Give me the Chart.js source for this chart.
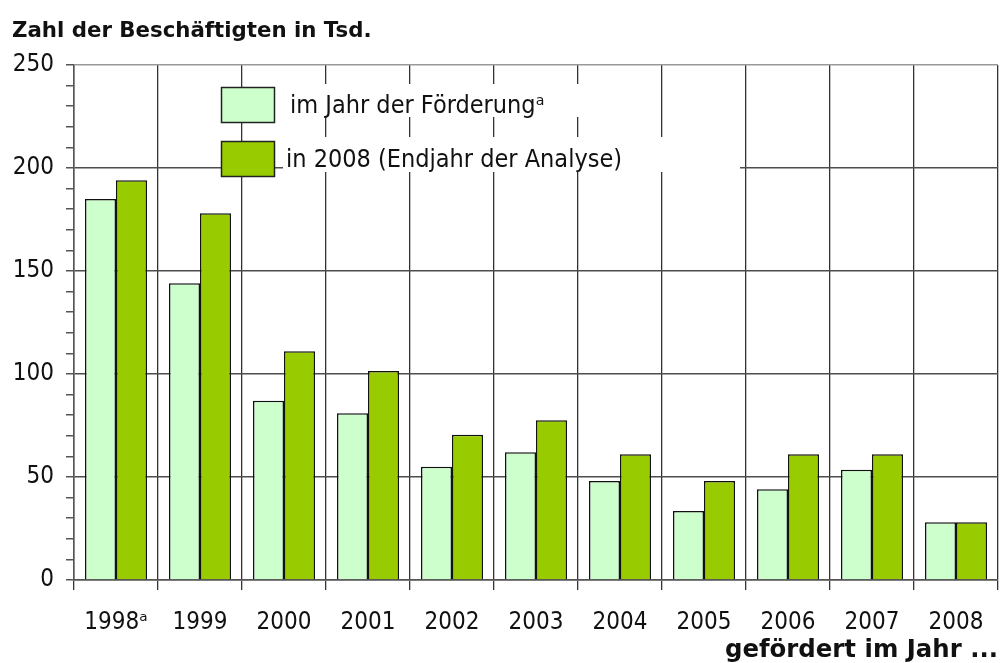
<!DOCTYPE html>
<html>
<head>
<meta charset="utf-8">
<script src="https://cdn.jsdelivr.net/npm/chart.js@4/dist/chart.umd.min.js"></script>
<style>
  html, body { margin: 0; padding: 0; background: #ffffff; }
  #wrap { width: 1002px; height: 663px; position: relative; }
</style>
</head>
<body>
<div id="wrap"><canvas id="c" width="1002" height="663"></canvas></div>
<script>
// ---- data ----
const categories = ['1998\u1D43', '1999', '2000', '2001', '2002', '2003', '2004', '2005', '2006', '2007', '2008'];
const imJahrDerFoerderung = [185, 144, 87, 81, 55, 62, 48, 33.5, 44, 53.5, 28];
const in2008 = [194, 178, 111, 101.5, 70.5, 77.5, 61, 48, 61, 61, 28];
const seriesNames = ['im Jahr der F\u00F6rderung\u1D43', 'in 2008 (Endjahr der Analyse)'];
const yTickValues = [0, 50, 100, 150, 200, 250];
const titleText = 'Zahl der Besch\u00E4ftigten in Tsd.';
const xAxisTitle = 'gef\u00F6rdert im Jahr ...';

const FONT = "'DejaVu Sans Condensed', 'DejaVu Sans', sans-serif";
const FONT_WIDE = "'DejaVu Sans', sans-serif";
const LIGHT = '#ccffcc';
const DARK = '#99cc00';

const overlay = {
  id: 'overlay',
  afterDraw(chart) {
    const ctx = chart.ctx;
    ctx.save();
    // title
    ctx.fillStyle = '#111';
    ctx.font = 'bold 21.3px ' + FONT_WIDE;
    ctx.textBaseline = 'alphabetic';
    ctx.textAlign = 'left';
    ctx.fillText(titleText, 12, 37);
    // x axis title
    ctx.textAlign = 'right';
    ctx.font = 'bold 24.4px ' + FONT_WIDE;
    ctx.fillText(xAxisTitle, 998, 657);

    // legend
    const items = [
      {color: LIGHT, name: seriesNames[0], sw: [221, 87, 54, 36], box: [283, 84, 330, 33], tx: 290, ty: 113},
      {color: DARK, name: seriesNames[1], sw: [221, 141, 54, 36], box: [283, 137, 457, 35], tx: 286, ty: 167}
    ];
    items.forEach(it => {
      ctx.fillStyle = '#ffffff';
      ctx.fillRect(it.box[0], it.box[1], it.box[2], it.box[3]);
    });
    items.forEach(it => {
      ctx.fillStyle = it.color;
      ctx.fillRect(it.sw[0], it.sw[1], it.sw[2], it.sw[3]);
      ctx.strokeStyle = '#222';
      ctx.lineWidth = 1.5;
      ctx.strokeRect(it.sw[0] + 0.5, it.sw[1] + 0.5, it.sw[2] - 1, it.sw[3] - 1);
      ctx.fillStyle = '#111';
      ctx.textAlign = 'left';
      ctx.font = '25px ' + FONT;
      ctx.fillText(it.name, it.tx, it.ty);
    });
    ctx.restore();
  }
};

new Chart(document.getElementById('c'), {
  type: 'bar',
  data: {
    labels: categories,
    datasets: [
      {label: seriesNames[0], data: imJahrDerFoerderung, backgroundColor: LIGHT, borderColor: '#111', borderWidth: 1.5, borderSkipped: 'bottom'},
      {label: seriesNames[1], data: in2008, backgroundColor: DARK, borderColor: '#111', borderWidth: 1.5, borderSkipped: 'bottom'}
    ]
  },
  options: {
    responsive: false,
    animation: false,
    devicePixelRatio: 1,
    layout: {padding: {top: 65, right: 4, left: 0, bottom: 0}},
    plugins: {legend: {display: false}, tooltip: {enabled: false}, title: {display: false}},
    datasets: {bar: {categoryPercentage: 0.738, barPercentage: 1.0}},
    scales: {
      x: {
        offset: true,
        grid: {offset: true, color: '#333', lineWidth: 1.3, tickLength: 10, drawOnChartArea: true},
        border: {display: true, color: '#555', width: 1.5},
        ticks: {color: '#111', font: {family: FONT, size: 24}, padding: 18, maxRotation: 0, autoSkip: false},
        afterFit(s) { s.height = 83; }
      },
      y: {
        min: 0, max: 250,
        afterBuildTicks(s) {
          const t = [];
          for (let v = 0; v <= 250; v += 10) t.push({value: v});
          s.ticks = t;
        },
        grid: {
          color: c => (c.tick && yTickValues.includes(c.tick.value)) ? (c.tick.value === 250 ? '#999' : '#4d4d4d') : 'rgba(0,0,0,0)',
          tickColor: '#555',
          lineWidth: 1.5,
          tickLength: 8
        },
        border: {display: true, color: '#555', width: 1.5},
        ticks: {
          color: '#111', font: {family: FONT, size: 24}, padding: 12, autoSkip: false,
          callback: v => yTickValues.includes(v) ? String(v) : ''
        },
        afterFit(s) { s.width = 74; }
      }
    }
  },
  plugins: [overlay]
});
</script>
</body>
</html>
